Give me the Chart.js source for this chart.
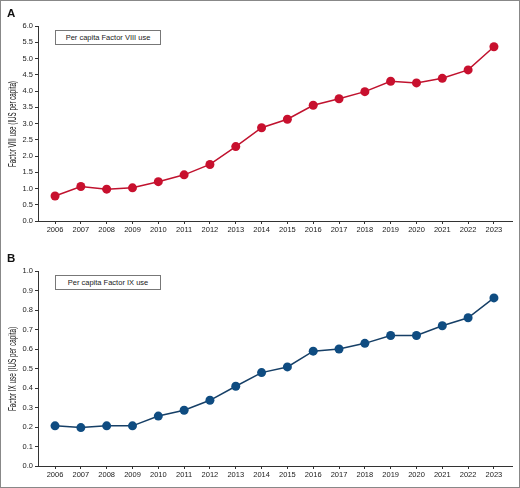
<!DOCTYPE html>
<html>
<head>
<meta charset="utf-8">
<script src="https://cdn.jsdelivr.net/npm/chart.js@4/dist/chart.umd.min.js"></script>
<style>
  body { margin: 0; background: #fff; font-family: "Liberation Sans", Arial, sans-serif; }
  #page { position: relative; width: 520px; height: 488px; overflow: hidden; }
  .panel { position: absolute; left: 0; width: 520px; height: 244px; }
  .panel canvas { position: absolute; left: 0; top: 0; }
  .tag { position: absolute; left: 7px; top: 8px; font-weight: bold; font-size: 11.5px; line-height: 1; color: #111; }
  .key { position: absolute; left: 55px; top: 30px; width: 104px; height: 13px; border: 1px solid #777;
         font-size: 7.5px; line-height: 13px; text-align: center; color: #222; background: #fff; }
  .ytitle { position: absolute; left: 13px; top: 124px; white-space: nowrap; font-size: 10px; line-height: 1;
            color: #111; transform-origin: center center; }
  #frame { position: absolute; left: 0; top: 0; width: 518px; height: 486px; border: 1px solid #888; pointer-events: none; }
</style>
</head>
<body>
<div id="page">
  <div class="panel" style="top:0">
    <canvas id="chartA" width="520" height="244"></canvas>
    <div class="tag">A</div>
    <div class="key">Per capita Factor VIII use</div>
    <div class="ytitle" id="titleA">Factor VIII use (IUS per capita)</div>
  </div>
  <div class="panel" style="top:245px">
    <canvas id="chartB" width="520" height="244"></canvas>
    <div class="tag">B</div>
    <div class="key" style="top:30px">Per capita Factor IX use</div>
    <div class="ytitle" id="titleB">Factor IX use (IUS per capita)</div>
  </div>
  <div id="frame"></div>
</div>
<script>
// Years on the x axis
const years = [2006, 2007, 2008, 2009, 2010, 2011, 2012, 2013, 2014, 2015,
               2016, 2017, 2018, 2019, 2020, 2021, 2022, 2023];

// Per capita Factor VIII use (IUs per capita)
const factorVIII = [0.77, 1.06, 0.98, 1.02, 1.21, 1.42, 1.74, 2.29, 2.87, 3.13,
                    3.56, 3.76, 3.98, 4.30, 4.25, 4.39, 4.65, 5.36];

// Per capita Factor IX use (IUs per capita)
const factorIX = [0.206, 0.197, 0.206, 0.206, 0.256, 0.286, 0.337, 0.409, 0.479, 0.508,
                  0.589, 0.600, 0.629, 0.669, 0.669, 0.719, 0.760, 0.862];

const tickFont = { family: '"Liberation Sans", Arial, sans-serif', size: 7.5 };

// squeeze the rotated axis titles to the condensed look of the original
function fitTitle(id, length) {
  const el = document.getElementById(id);
  const s = length / el.offsetWidth;
  el.style.transform = 'translate(-50%, -50%) rotate(-90deg) scaleX(' + s + ')';
}
fitTitle('titleA', 86);
fitTitle('titleB', 84);

function makeChart(id, values, color, lineColor, yMax, yStep) {
  const ctx = document.getElementById(id).getContext('2d');
  return new Chart(ctx, {
    type: 'line',
    data: {
      datasets: [{
        data: years.map((y, i) => ({ x: y, y: values[i] })),
        borderColor: lineColor,
        borderWidth: 1.5,
        pointRadius: 4.5,
        pointBackgroundColor: color,
        pointBorderColor: color,
        pointBorderWidth: 0,
        tension: 0
      }]
    },
    options: {
      responsive: false,
      animation: false,
      layout: { padding: { top: 26, right: 8, bottom: 0, left: 0 } },
      plugins: { legend: { display: false }, tooltip: { enabled: false } },
      scales: {
        x: {
          type: 'linear',
          min: 2005.34,
          max: 2023.70,
          afterBuildTicks: scale => { scale.ticks = years.map(v => ({ value: v })); },
          afterFit: scale => { scale.height = 23; },
          ticks: {
            autoSkip: false,
            maxRotation: 0,
            color: '#1a1a1a',
            font: tickFont,
            padding: 1,
            callback: v => String(v)
          },
          grid: { drawOnChartArea: false, drawTicks: true, tickLength: 3, color: '#333' },
          border: { display: true, color: '#333', width: 1 }
        },
        y: {
          min: 0,
          max: yMax,
          afterFit: scale => { scale.width = 38; },
          ticks: {
            stepSize: yStep,
            color: '#1a1a1a',
            font: tickFont,
            padding: 2,
            callback: v => v.toFixed(1)
          },
          grid: { drawOnChartArea: false, drawTicks: true, tickLength: 3, color: '#333' },
          border: { display: true, color: '#333', width: 1 }
        }
      }
    }
  });
}

makeChart('chartA', factorVIII, '#c8102e', '#c0122e', 6, 0.5);
makeChart('chartB', factorIX, '#0f4c81', '#163f66', 1, 0.1);
</script>
</body>
</html>
